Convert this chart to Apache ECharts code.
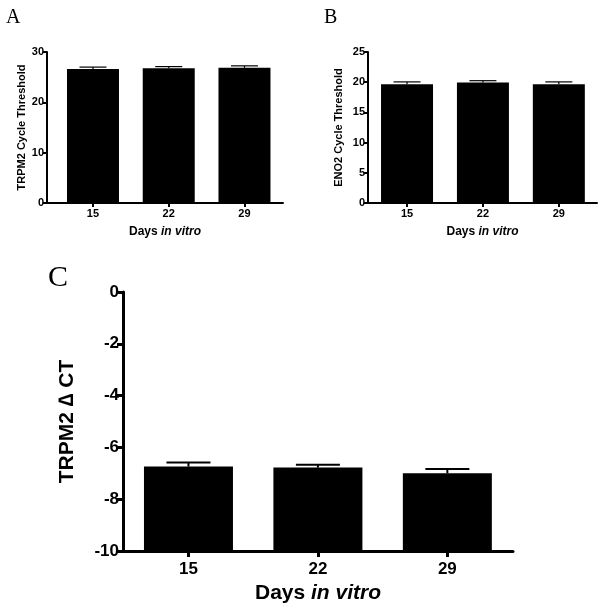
<!DOCTYPE html>
<html>
<head>
<meta charset="utf-8">
<script src="https://cdn.jsdelivr.net/npm/echarts@6/dist/echarts.min.js"></script>
<style>
html,body{margin:0;padding:0;background:#fff;}
#chart{width:600px;height:607px;}
</style>
</head>
<body>
<div id="chart"></div>
<script>
// ---- data ----
var days = [15, 22, 29];
var trpm2CtMean = [26.6, 26.75, 26.85];
var trpm2CtSem  = [0.4, 0.35, 0.4];
var eno2CtMean  = [19.65, 19.95, 19.65];
var eno2CtSem   = [0.4, 0.3, 0.4];
var deltaCtMean = [-6.74, -6.78, -7.0];
var deltaCtSem  = [0.16, 0.11, 0.17];
var ticksA = [0, 10, 20, 30];
var ticksB = [0, 5, 10, 15, 20, 25];
var ticksC = [-10, -8, -6, -4, -2, 0];

var FONT = '"Liberation Sans", Arial, sans-serif';
var SERIF = '"Liberation Serif", "Times New Roman", serif';

function pairs(m){ return days.map(function(d,i){ return [d, m[i]]; }); }
function errs(m, s){ return days.map(function(d,i){ return [d, m[i], m[i] + s[i]]; }); }

function errSeries(idx, data, capHalf, lw){
  return {
    type: 'custom', xAxisIndex: idx, yAxisIndex: idx, z: 5,
    data: data,
    renderItem: function(params, api){
      var x = api.value(0), lo = api.value(1), hi = api.value(2);
      var p0 = api.coord([x, lo]), p1 = api.coord([x, hi]);
      return {type: 'group', children: [
        {type: 'line', shape: {x1: p0[0], y1: p0[1], x2: p1[0], y2: p1[1]}, style: {stroke: '#000', lineWidth: lw}},
        {type: 'line', shape: {x1: p1[0] - capHalf, y1: p1[1], x2: p1[0] + capHalf, y2: p1[1]}, style: {stroke: '#000', lineWidth: lw}}
      ]};
    }
  };
}

function xAxisDef(idx, min, max, fs, lw, tl, margin, nameFs, nameGap){
  return {
    type: 'value', gridIndex: idx, min: min, max: max, position: 'bottom',
    splitLine: {show: false},
    axisLine: {show: true, onZero: false, lineStyle: {color: '#000', width: lw}},
    axisTick: {show: true, customValues: days, length: tl, lineStyle: {color: '#000', width: lw}},
    axisLabel: {customValues: days, color: '#000', fontFamily: FONT, fontWeight: 'bold', fontSize: fs, margin: margin},
    name: '{b|Days }{i|in vitro}',
    nameLocation: 'middle', nameGap: nameGap,
    nameTextStyle: {rich: {
      b: {fontFamily: FONT, fontWeight: 'bold', fontSize: nameFs, color: '#000'},
      i: {fontFamily: FONT, fontWeight: 'bold', fontStyle: 'italic', fontSize: nameFs, color: '#000'}
    }}
  };
}

function yAxisDef(idx, ticks, name, fs, lw, tl, margin, nameFs, nameGap, extra){
  var o = {
    type: 'value', gridIndex: idx, position: 'left',
    min: ticks[0], max: ticks[ticks.length - 1], interval: ticks[1] - ticks[0],
    splitLine: {show: false},
    axisLine: {show: true, onZero: false, lineStyle: {color: '#000', width: lw}},
    axisTick: {show: true, length: tl, lineStyle: {color: '#000', width: lw}},
    axisLabel: {color: '#000', fontFamily: FONT, fontWeight: 'bold', fontSize: fs, margin: margin},
    name: name, nameLocation: 'middle', nameGap: nameGap, nameRotate: 90,
    nameTextStyle: {fontFamily: FONT, fontWeight: 'bold', fontSize: nameFs, color: '#000'}
  };
  if (extra) for (var k in extra) o[k] = extra[k];
  return o;
}

var chart = echarts.init(document.getElementById('chart'), null, {renderer: 'canvas'});
chart.setOption({
  animation: false,
  backgroundColor: '#fff',
  title: [
    {text: 'A', left: 1, top: 3, textStyle: {fontFamily: SERIF, fontWeight: 'normal', fontSize: 20, color: '#000'}},
    {text: 'B', left: 319, top: 3, textStyle: {fontFamily: SERIF, fontWeight: 'normal', fontSize: 20, color: '#000'}},
    {text: 'C', left: 43, top: 258, textStyle: {fontFamily: SERIF, fontWeight: 'normal', fontSize: 30, color: '#000'}}
  ],
  grid: [
    {left: 47, top: 52, width: 236, height: 151},
    {left: 368, top: 52, width: 229, height: 151},
    {left: 123, top: 292, width: 390, height: 259}
  ],
  xAxis: [
    xAxisDef(0, 10.75, 32.56, 11, 2, 4, 5, 12, 23),
    xAxisDef(1, 11.4, 32.52, 11, 2, 4, 5, 12, 23),
    xAxisDef(2, 11.46, 32.55, 17, 3, 6, 10, 21, 32)
  ],
  yAxis: [
    yAxisDef(0, ticksA, 'TRPM2 Cycle Threshold', 11, 2, 4, 3, 11, 17),
    yAxisDef(1, ticksB, 'ENO2 Cycle Threshold', 11, 2, 4, 3, 11, 24),
    yAxisDef(2, ticksC, 'TRPM2 \u2206 CT', 17, 3, 6, 4, 21, 45, {startValue: -10})
  ],
  series: [
    {type: 'bar', xAxisIndex: 0, yAxisIndex: 0, barWidth: 52, data: pairs(trpm2CtMean), itemStyle: {color: '#000'}},
    errSeries(0, errs(trpm2CtMean, trpm2CtSem), 13.5, 1.2),
    {type: 'bar', xAxisIndex: 1, yAxisIndex: 1, barWidth: 52, data: pairs(eno2CtMean), itemStyle: {color: '#000'}},
    errSeries(1, errs(eno2CtMean, eno2CtSem), 13.5, 1.2),
    {type: 'bar', xAxisIndex: 2, yAxisIndex: 2, barWidth: 89, data: pairs(deltaCtMean), itemStyle: {color: '#000'}},
    errSeries(2, errs(deltaCtMean, deltaCtSem), 22, 2)
  ]
});
</script>
</body>
</html>
